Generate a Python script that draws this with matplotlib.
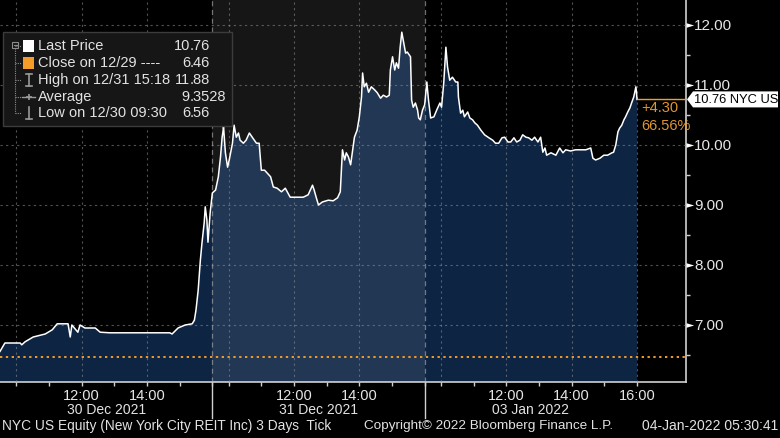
import numpy as np
import matplotlib
matplotlib.use('Agg')
import matplotlib.pyplot as plt
from matplotlib.patches import Rectangle, Polygon

plt.rcParams['font.family'] = ['Liberation Sans', 'DejaVu Sans']

# data (NYC US, tick data, 3 sessions)
day_labels = ['30 Dec 2021', '31 Dec 2021', '03 Jan 2022']

d1_time = ['09:30', '09:39', '10:07', '10:10', '10:16', '10:31', '10:44', '10:53', '11:06', '11:15',
           '11:35', '11:39', '11:42', '11:53', '11:57', '12:06', '12:25', '12:34', '12:52', '13:47',
           '14:42', '14:46', '14:57', '15:10', '15:23', '15:27', '15:30', '15:34', '15:38', '15:41',
           '15:45', '15:47', '15:50', '15:52', '15:56', '16:00']
d1_price = [6.56, 6.70, 6.70, 6.67, 6.72, 6.80, 6.83, 6.85, 6.92, 7.02,
            7.02, 6.80, 7.00, 6.88, 7.00, 6.95, 6.95, 6.88, 6.87, 6.87,
            6.87, 6.85, 6.95, 7.00, 7.02, 7.08, 7.25, 7.58, 8.08, 8.37,
            8.70, 8.97, 8.75, 8.38, 8.87, 9.20]

d2_time = ['09:30', '09:36', '09:41', '09:45', '09:48', '09:50', '09:50', '09:51', '09:54', '09:58',
           '10:01', '10:07', '10:10', '10:14', '10:18', '10:21', '10:27', '10:32', '10:38', '10:44',
           '10:51', '10:56', '11:00', '11:06', '11:11', '11:17', '11:22', '11:29', '11:37', '11:44',
           '11:53', '12:06', '12:17', '12:26', '12:34', '12:37', '12:41', '12:45', '12:52', '13:03',
           '13:12', '13:20', '13:25', '13:29', '13:33', '13:36', '13:40', '13:44', '13:47', '13:51',
           '13:56', '14:00', '14:04', '14:06', '14:09', '14:13', '14:17', '14:22', '14:28', '14:33',
           '14:39', '14:44', '14:50', '14:55', '14:57', '15:01', '15:05', '15:08', '15:12', '15:15',
           '15:18', '15:23', '15:25', '15:28', '15:34', '15:36', '15:39', '15:43', '15:47', '15:49',
           '15:52', '15:56', '16:00']
d2_price = [9.20, 9.25, 9.47, 9.80, 10.13, 10.25, 10.67, 10.25, 9.87, 9.63,
            9.75, 10.03, 10.33, 10.13, 10.20, 10.08, 10.03, 10.08, 10.20, 10.12,
            10.03, 10.03, 9.58, 9.58, 9.53, 9.47, 9.30, 9.28, 9.22, 9.28,
            9.13, 9.13, 9.13, 9.17, 9.33, 9.25, 9.12, 9.00, 9.05, 9.08,
            9.07, 9.12, 9.22, 9.92, 9.75, 9.87, 9.80, 9.67, 9.87, 10.13,
            10.25, 10.47, 10.80, 11.20, 10.97, 11.03, 10.88, 10.97, 10.92, 10.87,
            10.78, 10.83, 10.80, 10.83, 11.25, 11.47, 11.25, 11.37, 11.28, 11.63,
            11.88, 11.63, 11.53, 11.55, 11.47, 10.75, 10.63, 10.70, 10.58, 10.45,
            10.42, 10.58, 10.67]

d3_time = ['09:30', '09:34', '09:37', '09:41', '09:47', '09:52', '09:58', '10:01', '10:05', '10:09',
           '10:12', '10:16', '10:21', '10:27', '10:31', '10:32', '10:36', '10:40', '10:43', '10:49',
           '10:53', '10:58', '11:02', '11:07', '11:13', '11:20', '11:28', '11:35', '11:40', '11:46',
           '11:52', '11:57', '12:03', '12:08', '12:14', '12:19', '12:25', '12:30', '12:36', '12:41',
           '12:47', '12:52', '12:58', '13:03', '13:07', '13:11', '13:14', '13:22', '13:31', '13:38',
           '13:44', '13:49', '13:58', '14:07', '14:17', '14:26', '14:35', '14:39', '14:44', '14:52',
           '14:59', '15:06', '15:14', '15:17', '15:21', '15:25', '15:28', '15:32', '15:36', '15:39',
           '15:43', '15:47', '15:50', '15:54', '15:58', '15:59', '16:00']
d3_price = [10.67, 11.05, 10.75, 10.45, 10.47, 10.58, 10.70, 10.63, 11.03, 11.63,
            11.30, 11.08, 11.13, 11.05, 11.05, 10.80, 10.53, 10.58, 10.47, 10.55,
            10.45, 10.42, 10.37, 10.33, 10.25, 10.17, 10.12, 10.08, 10.03, 10.03,
            10.12, 10.13, 10.05, 10.05, 10.12, 10.05, 10.08, 10.17, 10.13, 10.12,
            10.08, 10.13, 10.05, 10.13, 9.88, 9.95, 9.83, 9.87, 9.83, 9.95,
            9.87, 9.92, 9.90, 9.92, 9.92, 9.92, 9.95, 9.78, 9.75, 9.78,
            9.83, 9.83, 9.87, 9.88, 10.00, 10.22, 10.28, 10.33, 10.42, 10.47,
            10.55, 10.62, 10.70, 10.80, 10.97, 10.88, 10.76]

prev_close = 6.46
high_val, high_when = 11.88, '12/31 15:18'
low_val, low_when = 6.56, '12/30 09:30'
average = 9.3528
y_ticks = [7, 8, 9, 10, 11, 12]

SESSION = 390  # minutes 09:30 - 16:00


def to_x(day, hhmm):
    h, m = hhmm.split(':')
    return day * SESSION + int(h) * 60 + int(m) - 570


x = []
y = []
for d, (tt, pp) in enumerate([(d1_time, d1_price), (d2_time, d2_price), (d3_time, d3_price)]):
    x += [to_x(d, t) for t in tt]
    y += pp
x = np.array(x)
y = np.array(y)
last = y[-1]

W, H = 780, 438
fig = plt.figure(figsize=(W / 100, H / 100), dpi=100, facecolor='black')
ax_bottom = 382
ax_right = 686
ax = fig.add_axes([0, 1 - ax_bottom / H, ax_right / W, ax_bottom / H])
ax.set_facecolor('black')

xmax = 3 * SESSION * ax_right / 637
ax.set_xlim(0, xmax)
ax.set_ylim(7 - (ax_bottom - 325) / 60, 12 + 25 / 60)

# price area
navy = '#0d2443'
ax.fill_between(x, y, 0, color=navy, lw=0, zorder=2)
ax.axvspan(SESSION, 2 * SESSION, color='white', alpha=0.09, lw=0, zorder=3)
ax.plot(x, y, color='white', lw=1.1, zorder=6)

# grid
grid_col = '#8a8a8a'
for v in y_ticks:
    ax.axhline(v, color=grid_col, lw=0.8, ls=(0, (2, 3)), alpha=0.6, zorder=4)
grid_x = []
for d in range(3):
    grid_x += [to_x(d, '10:00'), to_x(d, '12:00'), to_x(d, '14:00')]
grid_x.append(to_x(2, '16:00'))
for gx in grid_x:
    ax.axvline(gx, color=grid_col, lw=0.8, ls=(0, (2, 3)), alpha=0.6, zorder=4)
for d in (1, 2):
    ax.axvline(d * SESSION, color='#a0a0a0', lw=0.9, ls=(0, (4, 3)), alpha=0.7, zorder=4)

# previous close and last price lines
orange = '#f49b2a'
ax.axhline(prev_close, color=orange, lw=1.4, ls=(0, (1.2, 1.8)), zorder=7)
ax.hlines(last, x[-1], xmax, color=orange, lw=1.0, zorder=7)

# spines / ticks
for s in ('left', 'top'):
    ax.spines[s].set_visible(False)
for s in ('right', 'bottom'):
    ax.spines[s].set_color('#d0d0d0')
    ax.spines[s].set_linewidth(1.2)

ax.yaxis.tick_right()
ax.set_yticks(y_ticks)
ax.set_yticklabels(['%.2f' % v for v in y_ticks])
ax.set_yticks([v + 0.5 for v in [6] + y_ticks[:-1]], minor=True)
ax.tick_params(axis='y', which='major', length=0, pad=6, labelsize=11, labelcolor='#e6e6e6')
ax.tick_params(axis='y', which='minor', length=3, width=1, color='#d0d0d0', direction='out')
tri = [(0, -0.6), (0, 0.6), (2, 0), (0, -0.6)]
ax.plot([1] * len(y_ticks), y_ticks, ls='none', marker=tri, ms=11, color='white',
        mec='none', transform=ax.get_yaxis_transform(), clip_on=False, zorder=8)

hour_ticks = []
hour_labels = []
for d in range(3):
    for hh in range(10, 17):
        hour_ticks.append(to_x(d, '%02d:00' % hh))
        lab = '%d:00' % hh
        show = hh in (12, 14) or (d == 2 and hh == 16)
        hour_labels.append(lab if show else '')
ax.set_xticks(hour_ticks)
ax.set_xticklabels(hour_labels)
ax.tick_params(axis='x', length=3, width=1, color='#d0d0d0', direction='out',
               pad=2, labelsize=10.5, labelcolor='#e6e6e6')

# overlay in pixel coords for annotations
ov = fig.add_axes([0, 0, 1, 1], zorder=10)
ov.set_xlim(0, W)
ov.set_ylim(H, 0)
ov.axis('off')
ov.patch.set_alpha(0)

txt_col = '#e2e2e2'
px_per_min = ax_right / xmax
for d, lab in enumerate(day_labels):
    cx = (d * SESSION + SESSION / 2) * px_per_min
    ov.text(cx, 410, lab, ha='center', va='center', fontsize=10, color=txt_col)
for d in (1, 2):
    bx = d * SESSION * px_per_min
    ov.plot([bx, bx], [ax_bottom, 418], color='#d0d0d0', lw=1)

ov.text(2, 426, 'NYC US Equity (New York City REIT Inc) 3 Days  Tick', ha='left', va='center',
        fontsize=9.9, color=txt_col)
ov.text(364, 426, 'Copyright\u00a9 2022 Bloomberg Finance L.P.', ha='left', va='center',
        fontsize=9.7, color=txt_col)
ov.text(778, 426, '04-Jan-2022 05:30:41', ha='right', va='center', fontsize=10,
        color=txt_col)

# last price tag
ly = H - ax.transData.transform((0, last))[1]
ov.add_patch(Polygon([(687, ly), (693, ly - 8), (778, ly - 8), (778, ly + 8), (693, ly + 8)],
                     closed=True, fc='white', ec='none'))
ov.text(694, ly + 0.5, '%.2f NYC US' % last, ha='left', va='center', fontsize=9.3, color='black')
chg = last - prev_close
ov.text(641, ly + 9, '%+.2f' % chg, ha='left', va='center', fontsize=10.5, color='#e0952f')
ov.text(641, ly + 27, '%.2f%%' % (chg / prev_close * 100), ha='left', va='center',
        fontsize=10.5, color='#e0952f')

# legend box
ov.add_patch(Rectangle((3, 32), 229, 94, fc='#161616', ec='#3c3c3c', lw=1))
rows = [46, 63, 80, 97, 113]
names = ['Last Price', 'Close on 12/29 ----', 'High on %s' % high_when, 'Average',
         'Low on %s' % low_when]
vals = ['%.2f' % last, '%.2f' % prev_close, '%.2f' % high_val, '%.4f' % average, '%.2f' % low_val]
tree = '#8c8c8c'
ov.add_patch(Rectangle((12, 42), 6, 6, fc='none', ec=tree, lw=0.8))
ov.plot([13.5, 16.5], [45, 45], color=tree, lw=0.8)
ov.plot([15, 15], [48, rows[-1]], color=tree, lw=0.8, ls=(0, (1, 1)))
for ry, nm, vv in zip(rows, names, vals):
    ov.plot([15, 21], [ry, ry], color=tree, lw=0.8, ls=(0, (1, 1)))
    ov.text(38, ry, nm, ha='left', va='center', fontsize=10.5, color=txt_col)
    ip, fp = vv.split('.')
    ov.text(190, ry, ip, ha='right', va='center', fontsize=10.5, color=txt_col)
    ov.text(190, ry, '.' + fp, ha='left', va='center', fontsize=10.5, color=txt_col)
ov.add_patch(Rectangle((23, rows[0] - 6), 11, 12, fc='white', ec='none'))
ov.add_patch(Rectangle((23, rows[1] - 6), 11, 12, fc=orange, ec='none'))
ic = '#9a9a9a'
ov.plot([28.5, 28.5], [rows[2] - 6, rows[2] + 6], color=ic, lw=1.2)
ov.plot([25.5, 31.5], [rows[2] - 6, rows[2] - 6], color=ic, lw=1.2)
ov.plot([25.5, 31.5], [rows[2] + 6, rows[2] + 6], color=ic, lw=1.2)
ov.plot([22, 35], [rows[3], rows[3]], color=ic, lw=1.0)
ov.plot([28.5], [rows[3]], marker='+', ms=5, color=ic, mew=1.2)
ov.plot([28.5, 28.5], [rows[4] - 6, rows[4] + 6], color=ic, lw=1.2)
ov.plot([25.5, 31.5], [rows[4] + 6, rows[4] + 6], color=ic, lw=1.2)

fig.savefig('out.png', dpi=100, facecolor='black')
